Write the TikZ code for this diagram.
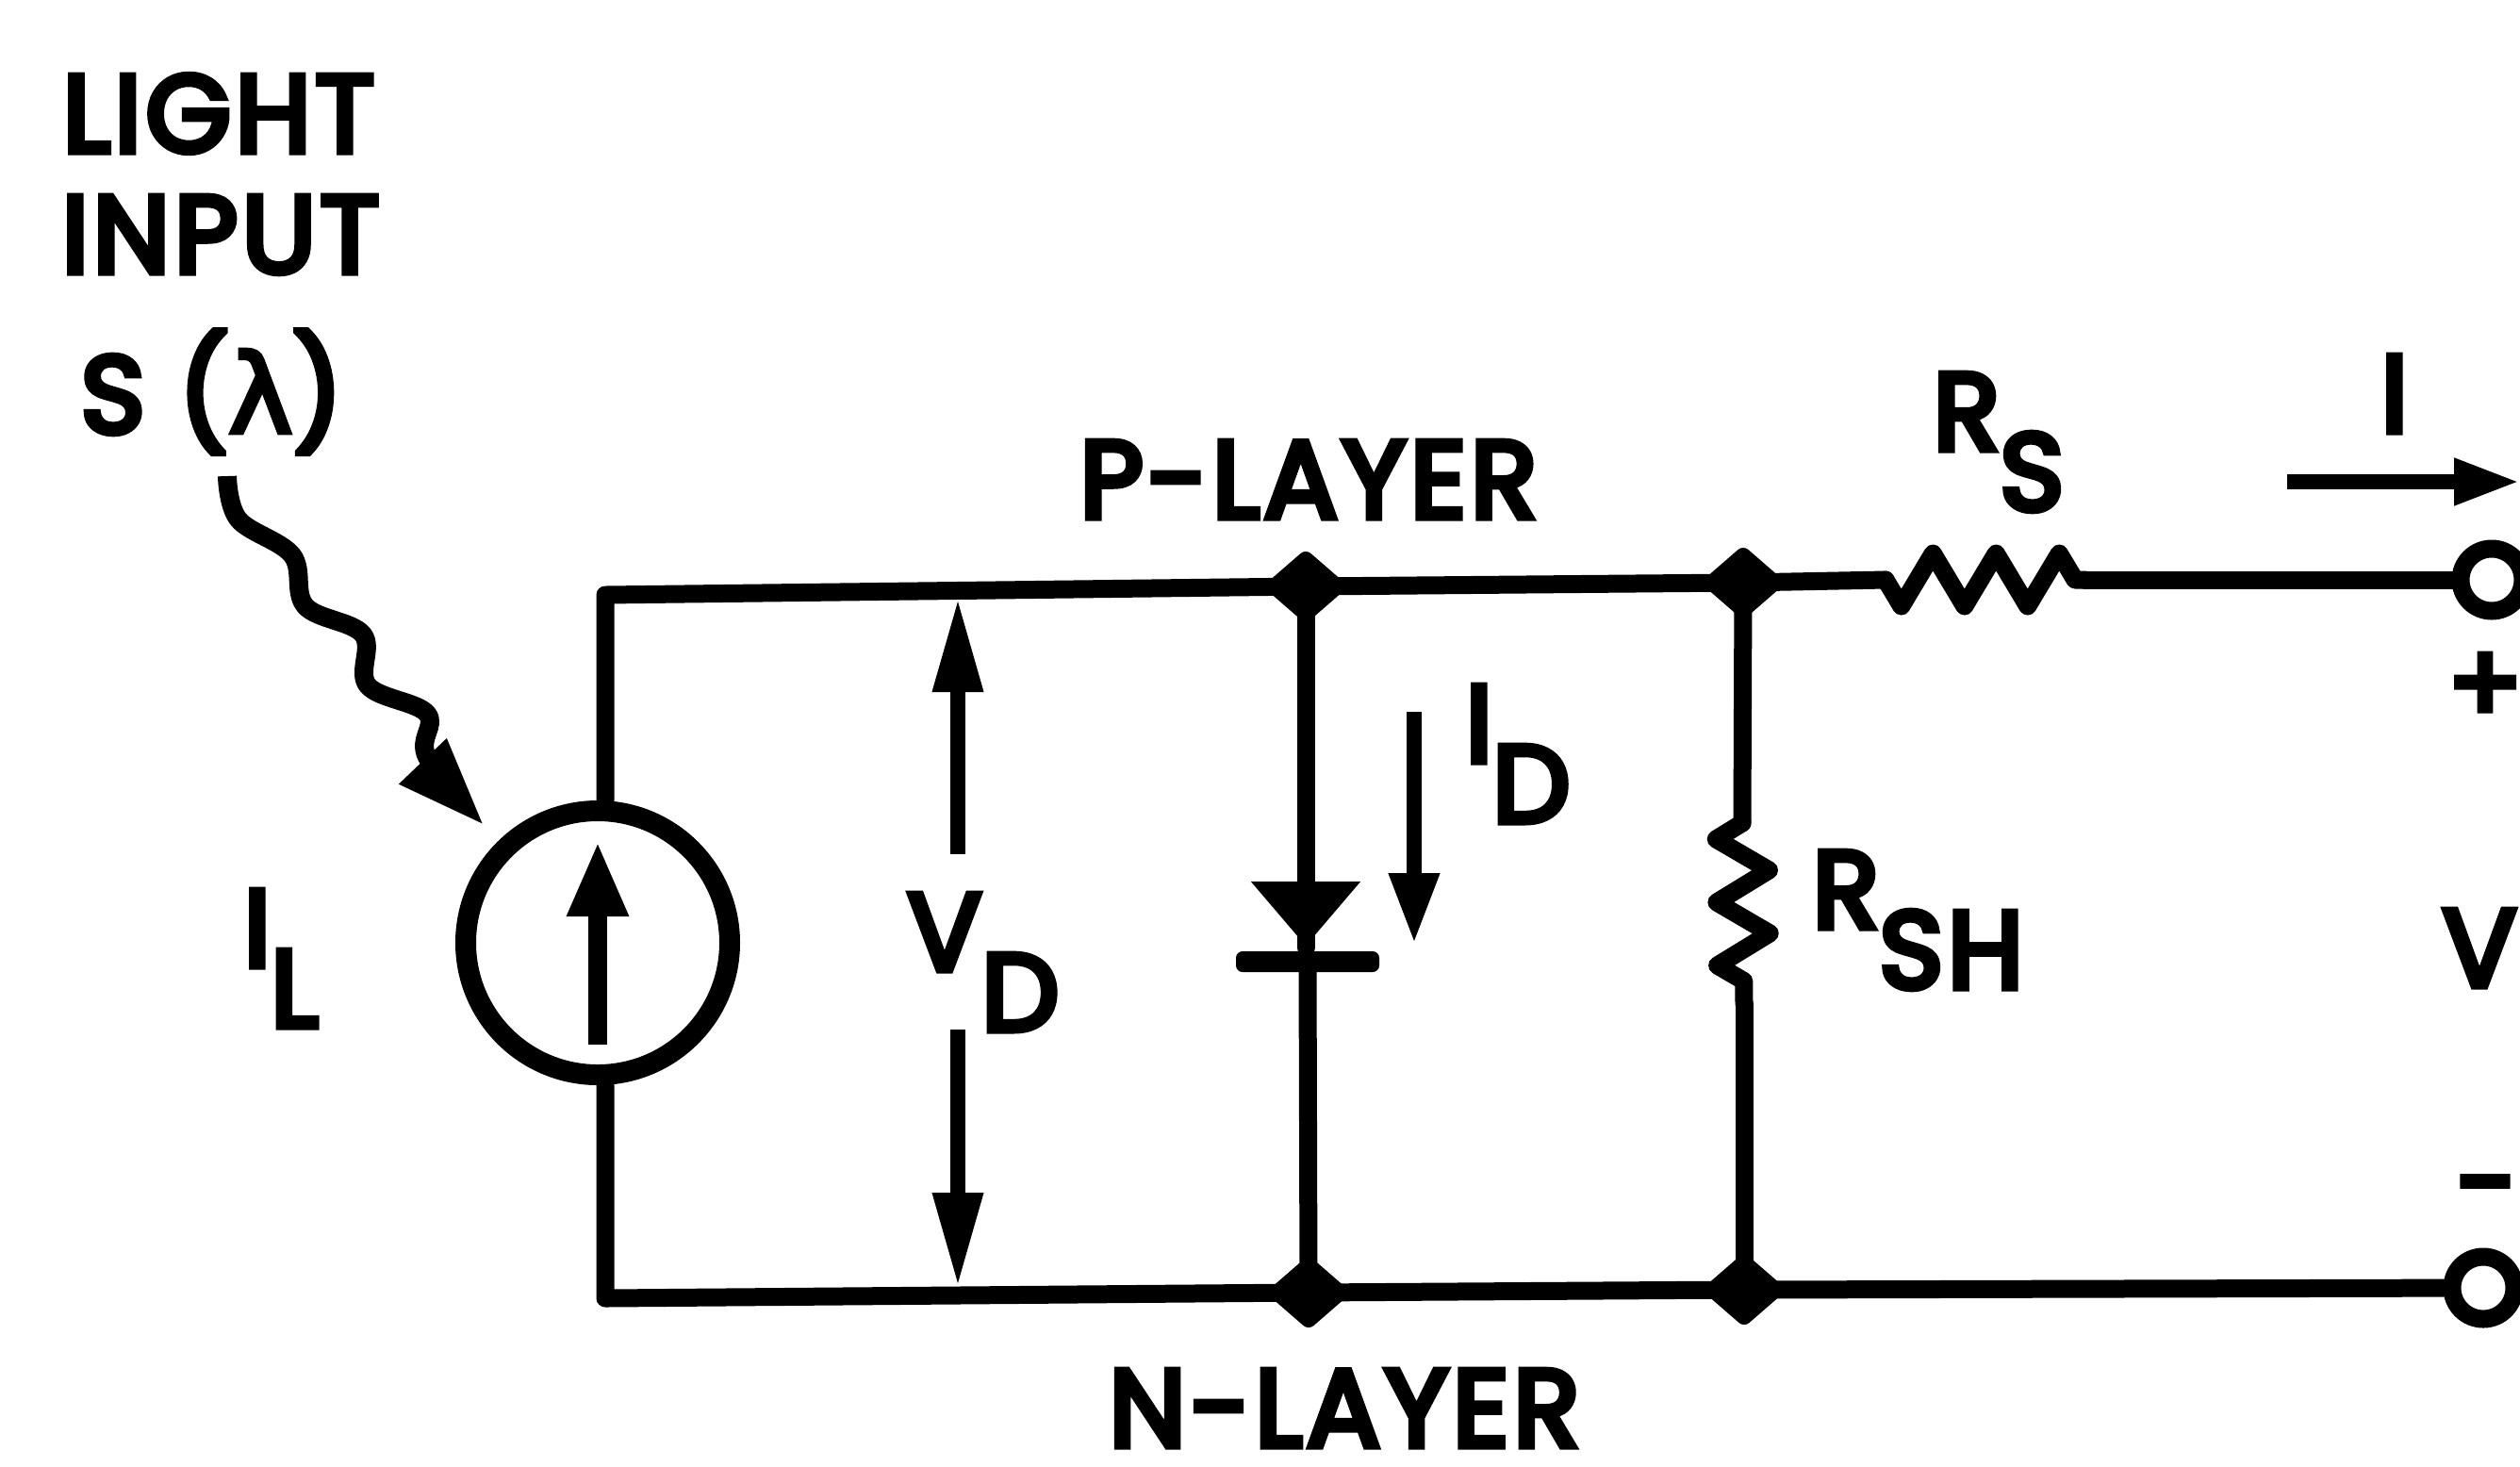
\documentclass[tikz,border=0pt]{standalone}
\usepackage{fontspec}
\newfontfamily\lettres[FakeBold=6,LetterSpace=4]{Poppins}
\newfontfamily\greekfont[FakeBold=4]{DejaVu Sans}
\usepackage{tikz}
\usetikzlibrary{shapes}
\usetikzlibrary{arrows.meta}
\usetikzlibrary{decorations.pathmorphing}
\tikzstyle{fil}=[line width=.19cm,line join=round,line cap=round]
\tikzstyle{noeud}=[diamond,fill=black,rounded corners=2pt,minimum width=.92cm,minimum height=.8cm,inner sep=0pt]
\tikzstyle{borne}=[ellipse,draw,fill=white,line width=.19cm,minimum width=.66cm,minimum height=.66cm,inner sep=0pt]
\tikzstyle{texte}=[inner sep=0pt,font=\lettres\fontsize{33}{33}\selectfont]
\tikzstyle{suite}=[-{Triangle[length=1cm,width=.5cm]},line width=.16cm]
\tikzstyle{rayon}=[-{Triangle[length=.95cm,width=.64cm]},line width=.2cm,line join=round]
\tikzstyle{resistance}=[fil,decorate,decoration={zigzag,mirror,segment length=.67cm,amplitude=.28cm}]
\newcommand{\bas}[1]{\raisebox{-.64cm}{#1}}
\begin{document}
\begin{tikzpicture}
\useasboundingbox (0,0) rectangle (26.73,-15.55);
\node[texte,anchor=base] (light) at (2.32,-1.61) {LIGHT};
\node[texte,anchor=base] (input) at (2.34,-2.89) {INPUT};
\node[texte,anchor=base west] (spectre) at (.85,-4.59) {S ({\greekfont λ})};
\node[circle,draw,line width=.22cm,minimum size=2.8cm,inner sep=0pt] (source) at (6.34,-10) {};
\node[texte,anchor=base west] (il) at (2.58,-10.25) {I\bas{L}};
\node[texte,anchor=base west] (vd) at (9.62,-10.29) {V\bas{D}};
\node[texte,anchor=base west] (id) at (15.54,-8.08) {I\bas{D}};
\node[texte,anchor=base] (player) at (13.88,-5.49) {P-LAYER};
\node[texte,anchor=base] (nlayer) at (14.26,-15.34) {N-LAYER};
\node[texte,anchor=base west] (rs) at (20.5,-4.77) {R\bas{S}};
\node[texte,anchor=base west] (rsh) at (19.22,-9.84) {R\bas{SH}};
\node[texte,anchor=base] (courant) at (25.4,-4.58) {I};
\node[texte,anchor=base] (tension) at (26.3,-10.46) {V};
\node[texte] (plus) at (26.36,-7.3) {+};
\node[texte] (moins) at (26.38,-12.72) {-};
\node[noeud] (jp) at (13.85,-6.22) {};
\node[noeud] (jr) at (18.49,-6.18) {};
\node[noeud] (jn) at (13.88,-13.71) {};
\node[noeud] (js) at (18.5,-13.68) {};
\node[borne] (bh) at (26.43,-6.15) {};
\node[borne] (bb) at (26.34,-13.66) {};
\coordinate (hg) at (6.42,-6.31);
\coordinate (bg) at (6.42,-13.77);
\coordinate (rsa) at (20,-6.15);
\coordinate (rsb) at (22.12,-6.15);
\coordinate (rsha) at (18.48,-8.73);
\coordinate (rshb) at (18.5,-10.65);
\coordinate (diode) at (13.85,-10.05);
\coordinate (barre) at (13.87,-10.2);
%Circuit
\draw[fil] (source.north -| hg) -- (hg) -- (jp.center) -- (jr.center) -- (rsa);
\draw[resistance] (rsa) -- (rsb);
\draw[fil] (rsb) -- (bh);
\draw[fil] (source.south -| bg) -- (bg) -- (jn.center) -- (js.center) -- (bb);
\draw[fil] (jr.center) -- (rsha);
\draw[resistance] (rsha) -- (rshb);
\draw[fil] (rshb) -- (js.center);
\draw[fil] (jp.center) -- (diode);
\draw[fil] (barre) -- (jn.center);
\node[isosceles triangle,isosceles triangle stretches,shape border rotate=270,fill=black,minimum width=1.16cm,minimum height=.68cm,inner sep=0pt,anchor=apex] (diodeh) at (diode) {};
\node[rectangle,fill=black,rounded corners=2pt,minimum width=1.52cm,minimum height=.22cm,inner sep=0pt] (diodeb) at (barre) {};
%Fleches
\coordinate (rd) at (2.41,-5.05);
\coordinate (r1) at (2.53,-5.51);
\coordinate (r2) at (3.1,-5.89);
\coordinate (r3) at (3.24,-6.43);
\coordinate (r4) at (3.85,-6.73);
\coordinate (r5) at (3.9,-7.27);
\coordinate (r6) at (4.53,-7.57);
\coordinate (r7) at (4.53,-8.03);
\coordinate (rf) at (5.14,-8.76);
\draw[rayon] plot[smooth,tension=.6] coordinates {(rd) (r1) (r2) (r3) (r4) (r5) (r6) (r7) (rf)};
\coordinate (sa) at (6.34,-11.08);
\coordinate (sb) at (6.34,-8.92);
\draw[suite,line width=.2cm,-{Triangle[length=.8cm,width=.6cm]}] (sa) -- (sb);
\coordinate (va) at (10.16,-9.06);
\coordinate (vb) at (10.16,-6.34);
\coordinate (vc) at (10.16,-10.92);
\coordinate (vd2) at (10.16,-13.65);
\draw[suite] (va) -- (vb);
\draw[suite] (vc) -- (vd2);
\coordinate (ia) at (15,-7.55);
\coordinate (ib) at (15,-10.01);
\draw[suite,-{Triangle[length=.75cm,width=.5cm]}] (ia) -- (ib);
\coordinate (ca) at (24.26,-5.11);
\coordinate (cb) at (26.73,-5.11);
\draw[suite,-{Triangle[length=.7cm,width=.46cm]}] (ca) -- (cb);
\end{tikzpicture}
\end{document}
